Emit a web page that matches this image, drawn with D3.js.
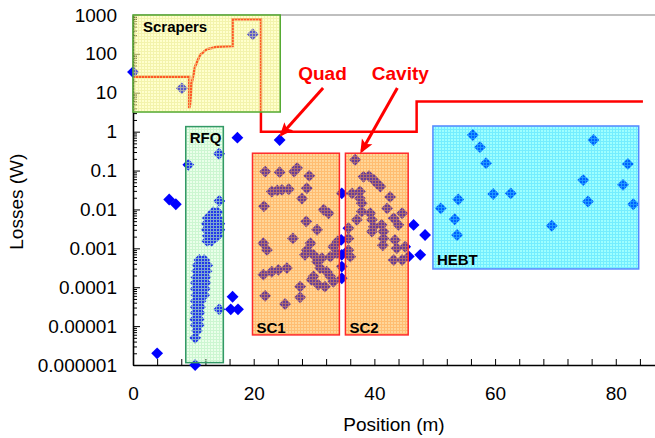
<!DOCTYPE html>
<html>
<head>
<meta charset="utf-8">
<script src="https://cdn.jsdelivr.net/npm/d3@7"></script>
<style>
  body { margin: 0; background: #fff; }
  svg { display: block; font-family: 'Liberation Sans', Arial, sans-serif; }
</style>
</head>
<body>
<div id="chart"></div>
<script>
const xMajor = [0, 20, 40, 60, 80]
const yTicks = [1e-6, 1e-5, 1e-4, 1e-3, 1e-2, 0.1, 1, 10, 100, 1000]
const yTickLabels = ['0.000001', '0.00001', '0.0001', '0.001', '0.01', '0.1', '1', '10', '100', '1000']

// loss limit (W) along the linac
const limitPos = [0, 9.3, 9.3, 9.45, 9.73, 10.28, 11.1, 12.2, 13.9, 16.5, 16.5, 21.2, 21.2, 47, 47, 84.5]
const limitLoss = [26, 26, 4, 5, 17.5, 47, 93, 131, 153, 160, 780, 780, 1, 1, 6, 6]

// sections
const boxNames = ['Scrapers', 'RFQ', 'SC1', 'SC2', 'HEBT']
const boxStart = [0, 8.74, 19.8, 35.2, 49.7]
const boxEnd = [24.4, 14.97, 34.2, 45.6, 83.8]
const boxTop = [1000, 1.35, 0.279, 0.279, 1.4]
const boxBottom = [3.2, 1.15e-6, 5.94e-6, 5.94e-6, 2.95e-4]

// losses [position m, W]
const scraperPts = [[0, 34], [8.1, 13], [19.85, 320]]
const freePts = [
  [17.3, 0.7], [24.3, 0.61], [6.0, 0.018], [7.1, 0.0136], [4.0, 2e-6], [10.3, 1e-6],
  [16.5, 5.7e-5], [16.2, 2.7e-5], [17.4, 2.7e-5],
  [34.6, 0.026], [34.5, 0.00165], [34.6, 0.00068], [34.6, 0.00034], [34.6, 0.00017],
  [46.5, 0.004], [48.4, 0.0022], [47.6, 0.00068], [45.7, 0.00062]
]
const rfqPts = [
  [9.17, 0.14], [14.26, 0.27], [14.3, 0.0166], [14.3, 2.7e-5],
  [13.3, 0.0085], [14.0, 0.0085], [12.4, 0.006], [13.2, 0.006], [14.0, 0.006],
  [12.2, 0.0043], [13.0, 0.0043], [13.8, 0.0043], [14.3, 0.0043],
  [12.2, 0.003], [13.0, 0.003], [13.8, 0.003], [14.3, 0.003],
  [12.4, 0.0021], [13.2, 0.0021], [14.0, 0.0021], [12.3, 0.00155], [13.0, 0.00155],
  [11.0, 0.0005], [11.8, 0.0005], [10.7, 0.00037], [11.5, 0.00037], [12.3, 0.00037],
  [10.6, 0.00026], [11.4, 0.00026], [12.2, 0.00026], [10.5, 0.00018], [11.3, 0.00018], [12.0, 0.00018],
  [10.4, 0.00013], [11.2, 0.00013], [12.0, 0.00013], [10.4, 9.1e-5], [11.2, 9.1e-5], [11.9, 9.1e-5],
  [10.5, 6.3e-5], [11.3, 6.3e-5], [11.8, 6.3e-5], [10.4, 4.4e-5], [11.2, 4.4e-5],
  [10.4, 3.1e-5], [11.1, 3.1e-5], [10.4, 2.2e-5], [11.0, 2.2e-5], [10.3, 1.5e-5], [10.9, 1.5e-5],
  [10.4, 1.07e-5], [10.9, 1.07e-5], [10.6, 7.6e-6], [10.3, 5e-6]
]
const sc1Pts = [
  [21.9, 0.094], [24.3, 0.091], [26.7, 0.094], [27.2, 0.116], [29.2, 0.073],
  [23.0, 0.029], [23.9, 0.031], [24.7, 0.032], [25.8, 0.033], [28.8, 0.035], [28.0, 0.019],
  [21.7, 0.012], [31.6, 0.0098], [32.4, 0.008], [28.7, 0.0049], [30.5, 0.003], [26.5, 0.0018],
  [21.6, 0.00135], [22.2, 0.00091], [29.4, 0.00135], [33.9, 0.0015],
  [28.5, 0.00068], [29.9, 0.00068], [31.3, 0.00056], [32.7, 0.00061], [33.8, 0.00075],
  [28.8, 0.0009], [30.5, 0.00045], [33.2, 0.0011],
  [31.0, 0.00031], [32.1, 0.00025], [32.7, 0.00019], [29.9, 0.00019],
  [21.6, 0.00021], [23.0, 0.00025], [24.1, 0.00028], [25.5, 0.00031],
  [29.6, 0.000155], [30.7, 0.000115], [31.8, 0.000104], [33.2, 0.000138], [27.7, 0.000104],
  [21.9, 6e-5], [27.7, 5.5e-5], [25.2, 3.7e-5]
]
const sc2Pts = [
  [36.8, 0.19],
  [38.2, 0.069], [39.1, 0.072], [39.9, 0.058], [40.4, 0.047], [41.0, 0.039],
  [36.3, 0.026], [37.6, 0.029], [37.6, 0.0195], [37.9, 0.0145], [37.9, 0.0088],
  [42.6, 0.021], [42.1, 0.0107],
  [39.3, 0.008], [39.6, 0.0054], [39.9, 0.0036], [39.6, 0.0027], [37.1, 0.0054],
  [44.6, 0.008], [44.0, 0.004], [43.2, 0.0059],
  [41.2, 0.004], [41.5, 0.0027], [41.5, 0.0018], [41.4, 0.0012],
  [35.7, 0.0033], [35.7, 0.0018], [35.7, 0.0009], [36.0, 0.00061],
  [43.4, 0.00165], [43.7, 0.001], [45.1, 0.0011],
  [43.2, 0.0005], [44.6, 0.0005]
]
const hebtPts = [
  [56.3, 0.82], [57.5, 0.4], [58.5, 0.155], [76.3, 0.61], [82.0, 0.148], [74.6, 0.057],
  [81.2, 0.043], [59.7, 0.025], [62.6, 0.026], [53.9, 0.018], [75.4, 0.016], [82.9, 0.0136],
  [51.0, 0.0107], [53.3, 0.0056], [69.4, 0.0038], [53.7, 0.0022]
]

// callouts
const noteText = ['Quad', 'Cavity']
const notePos = [31.4, 44.3]
const noteLoss = [21.3, 21.3]
const arrowFromPos = [31.5, 43.8]
const arrowFromLoss = [13.2, 13.2]
const arrowToPos = [24.6, 37.9]
const arrowToLoss = [0.85, 0.32]

const boxStyle = {
  Scrapers: { cell: '#ffff70', cellOp: 0.35, grid: '#e8e890', gridOp: 0.55, stroke: '#55aa33', label: 'top', dx: 10, dy: 17 },
  RFQ: { cell: '#a0ffa0', cellOp: 0.22, grid: '#b8f0c0', gridOp: 0.6, stroke: '#339966', label: 'top', dx: 4, dy: 16 },
  SC1: { cell: '#ff9900', cellOp: 0.4, grid: '#ffa040', gridOp: 0.45, stroke: '#ff2a2a', label: 'bottom', dx: 4, dy: -2 },
  SC2: { cell: '#ff9900', cellOp: 0.4, grid: '#ffa040', gridOp: 0.45, stroke: '#ff2a2a', label: 'bottom', dx: 4, dy: -2 },
  HEBT: { cell: '#00ffff', cellOp: 0.38, grid: '#40d8ff', gridOp: 0.45, stroke: '#5588ff', label: 'bottom', dx: 4, dy: -4 }
}

const width = 655
const height = 438

const svg = d3.select('#chart').append('svg').attr('width', width).attr('height', height)
const x = d3.scaleLinear().domain([0, 86.5]).range([133, 655])
const y = d3.scaleLog().domain([1e-6, 1000]).range([365, 15])

const defs = svg.append('defs')
boxNames.forEach((name) => {
  const s = boxStyle[name]
  const p = defs.append('pattern').attr('id', 'pat-' + name)
    .attr('patternUnits', 'userSpaceOnUse').attr('width', 3).attr('height', 3)
  p.append('rect').attr('width', 3).attr('height', 3).attr('fill', s.cell).attr('fill-opacity', s.cellOp)
  p.append('rect').attr('width', 3).attr('height', 1).attr('fill', s.grid).attr('fill-opacity', s.gridOp)
  p.append('rect').attr('y', 1).attr('width', 1).attr('height', 2).attr('fill', s.grid).attr('fill-opacity', s.gridOp)
})
defs.append('marker').attr('id', 'head').attr('markerUnits', 'userSpaceOnUse')
  .attr('viewBox', '-14 -7 18 14').attr('refX', 0).attr('refY', 0)
  .attr('markerWidth', 18).attr('markerHeight', 14).attr('orient', 'auto')
  .append('path').attr('d', 'M-11,-6 L3,0 L-11,6 L-8,0 Z').attr('fill', '#ff0000')

// axes
const xAxis = d3.axisBottom(x).tickValues(d3.range(0, 86, 4)).tickSizeInner(-6).tickSizeOuter(0)
  .tickPadding(22).tickFormat((d) => (xMajor.includes(d) ? d : ''))
const gx = svg.append('g').attr('transform', 'translate(0,365)').call(xAxis)

const yAxis = d3.axisLeft(y).tickValues(yTicks).tickSizeInner(-7).tickSizeOuter(0)
  .tickPadding(16).tickFormat((d, i) => yTickLabels[i])
const gy = svg.append('g').attr('transform', 'translate(133,0)').call(yAxis)

const minor = y.ticks().filter((d) => !yTicks.some((t) => Math.abs(t - d) / t < 1e-6))
svg.append('g').attr('transform', 'translate(133,0)')
  .call(d3.axisLeft(y).tickValues(minor).tickSize(-4).tickFormat(''))
  .call((g) => g.select('.domain').remove())

;[gx, gy].forEach((g) => {
  g.selectAll('text').attr('font-size', 19).attr('font-family', "'Liberation Sans', Arial, sans-serif").attr('fill', '#000')
  g.select('.domain').attr('stroke-width', 1.6)
})
svg.selectAll('.tick line').attr('stroke', '#000').attr('stroke-width', 1)

svg.append('line').attr('x1', 133).attr('x2', width).attr('y1', y(1000)).attr('y2', y(1000))
  .attr('stroke', '#aaa').attr('stroke-width', 1.5)

svg.append('text').attr('transform', 'translate(23,' + (y(0.0005) + y(0.5)) / 2 + ') rotate(-90)')
  .attr('text-anchor', 'middle').attr('font-size', 19).text('Losses (W)')
svg.append('text').attr('x', (x(0) + width) / 2).attr('y', 431)
  .attr('text-anchor', 'middle').attr('font-size', 19).text('Position (m)')

// limit line
const line = d3.line().x((d) => x(d[0])).y((d) => y(d[1]))
svg.append('path').datum(d3.zip(limitPos, limitLoss)).attr('d', line)
  .attr('fill', 'none').attr('stroke', '#ff0000').attr('stroke-width', 2.5)

// losses
const allPts = [].concat(scraperPts, freePts, rfqPts, sc1Pts, sc2Pts, hebtPts)
const diamond = d3.symbol().type(d3.symbolSquare).size(70)
svg.append('g').selectAll('path').data(allPts).enter().append('path')
  .attr('d', diamond)
  .attr('transform', (d) => 'translate(' + x(d[0]) + ',' + y(d[1]) + ') rotate(45)')
  .attr('fill', '#0000ff')

// section boxes
const boxes = boxNames.map((name, i) => ({ name, x0: boxStart[i], x1: boxEnd[i], top: boxTop[i], bottom: boxBottom[i] }))
svg.append('g').selectAll('rect').data(boxes).enter().append('rect')
  .attr('x', (d) => x(d.x0)).attr('y', (d) => y(d.top))
  .attr('width', (d) => x(d.x1) - x(d.x0)).attr('height', (d) => y(d.bottom) - y(d.top))
  .attr('fill', (d) => 'url(#pat-' + d.name + ')')
  .attr('stroke', (d) => boxStyle[d.name].stroke).attr('stroke-width', 1.5)

svg.append('g').selectAll('text').data(boxes).enter().append('text')
  .attr('x', (d) => x(d.x0) + boxStyle[d.name].dx)
  .attr('y', (d) => (boxStyle[d.name].label === 'top' ? y(d.top) : y(d.bottom)) + boxStyle[d.name].dy)
  .attr('font-size', 15).attr('font-weight', 'bold').attr('fill', '#000')
  .text((d) => d.name)

// callouts
const notes = noteText.map((t, i) => ({ t, i }))
svg.append('g').selectAll('text').data(notes).enter().append('text')
  .attr('x', (d) => x(notePos[d.i])).attr('y', (d) => y(noteLoss[d.i]))
  .attr('text-anchor', 'middle').attr('font-size', 19).attr('font-weight', 'bold')
  .attr('fill', '#ff0000').text((d) => d.t)
svg.append('g').selectAll('line').data(notes).enter().append('line')
  .attr('x1', (d) => x(arrowFromPos[d.i])).attr('y1', (d) => y(arrowFromLoss[d.i]))
  .attr('x2', (d) => x(arrowToPos[d.i])).attr('y2', (d) => y(arrowToLoss[d.i]))
  .attr('stroke', '#ff0000').attr('stroke-width', 3).attr('marker-end', 'url(#head)')
</script>
</body>
</html>
